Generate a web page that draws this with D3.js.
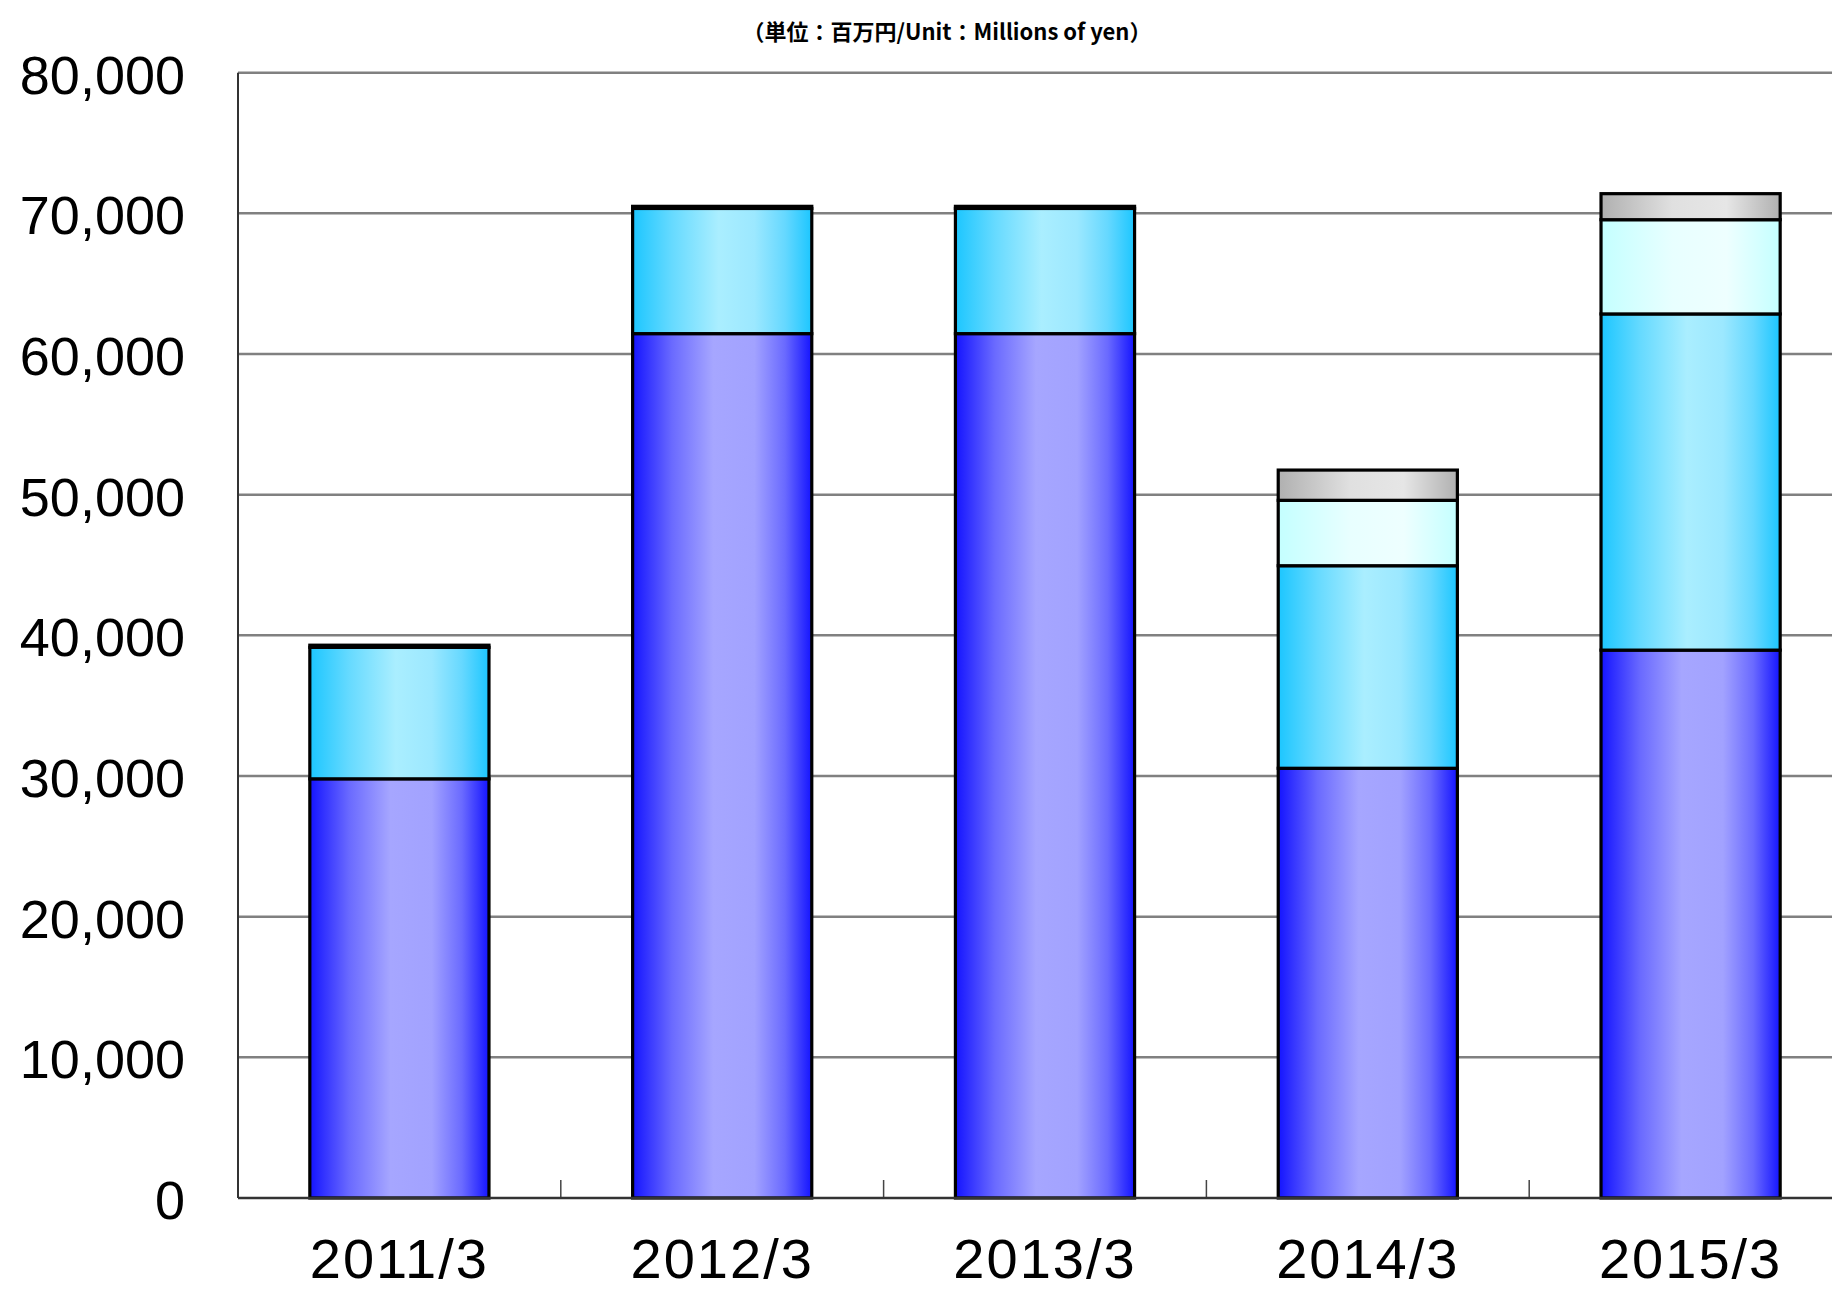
<!DOCTYPE html>
<html>
<head>
<meta charset="utf-8">
<script src="https://cdn.jsdelivr.net/npm/d3@7"></script>
<style>
    html, body { margin: 0; padding: 0; background: #fff; overflow: hidden; }
</style>
</head>
<body>
<div class="graph-goes-here"></div>
<script>
// values in millions of yen
var categories = ["2011/3", "2012/3", "2013/3", "2014/3", "2015/3"];
var blueValues = [29800, 61450, 61450, 30550, 38950];
var cyanValues = [9350, 8900, 8900, 14400, 23900];
var paleValues = [150, 150, 150, 4650, 6700];
var grayValues = [0, 0, 0, 2150, 1850];
var yTicks = [0, 10000, 20000, 30000, 40000, 50000, 60000, 70000, 80000];

var seriesKeys = ["blue", "cyan", "pale", "gray"];
var gradientStops = {
    blue: [["0%", "#1414ff"], ["22%", "#6a6aff"], ["45%", "#a6a6ff"], ["68%", "#a2a2ff"], ["85%", "#6a6aff"], ["100%", "#1414ff"]],
    cyan: [["0%", "#1cc6ff"], ["22%", "#66daff"], ["48%", "#aaeeff"], ["68%", "#9ce8ff"], ["85%", "#66d8ff"], ["100%", "#1cc6ff"]],
    pale: [["0%", "#c4ffff"], ["40%", "#e8ffff"], ["70%", "#eeffff"], ["100%", "#c4ffff"]],
    gray: [["0%", "#b0b0b0"], ["40%", "#e0e0e0"], ["70%", "#e6e6e6"], ["100%", "#b0b0b0"]]
};

var width = 1832, height = 1290;
var margin = { top: 72.7, left: 238, right: 1852, bottom: 1198 };

var table = categories.map((c, i) => ({
    category: c, blue: blueValues[i], cyan: cyanValues[i], pale: paleValues[i], gray: grayValues[i]
}));

var svg = d3.select(".graph-goes-here")
    .append("svg")
    .attr("width", width)
    .attr("height", height)
    .style("display", "block");

var defs = svg.append("defs");
seriesKeys.forEach(k => {
    var g = defs.append("linearGradient")
        .attr("id", "grad-" + k)
        .attr("x1", "0").attr("x2", "1").attr("y1", "0").attr("y2", "0");
    gradientStops[k].forEach(s => {
        g.append("stop").attr("offset", s[0]).attr("stop-color", s[1]);
    });
});

var xScale = d3.scaleBand().domain(categories).range([margin.left, margin.right]).paddingInner(0.445).paddingOuter(0.2225);
var xBand = d3.scaleBand().domain(categories).range([margin.left, margin.right]);
var yScale = d3.scaleLinear().domain([0, 80000]).range([margin.bottom, margin.top]);

// gridlines
svg.append("g")
    .selectAll("line")
    .data(yTicks.slice(1))
    .join("line")
    .attr("x1", margin.left)
    .attr("x2", margin.right)
    .attr("y1", d => yScale(d))
    .attr("y2", d => yScale(d))
    .attr("stroke", "#808080")
    .attr("stroke-width", 2.5);

// y axis labels
var yAxis = svg.append("g")
    .attr("transform", "translate(" + margin.left + ",0)")
    .call(d3.axisLeft(yScale).tickValues(yTicks).tickFormat(d3.format(",")).tickSize(0).tickPadding(53));
yAxis.select(".domain").remove();
yAxis.selectAll("text")
    .attr("font-family", "'Liberation Sans', Arial, sans-serif")
    .attr("font-size", 54)
    .attr("fill", "#000")
    .attr("dy", "0.38em");

// small tick marks between categories
svg.append("g")
    .selectAll("line")
    .data(categories.slice(1))
    .join("line")
    .attr("x1", d => xBand(d))
    .attr("x2", d => xBand(d))
    .attr("y1", margin.bottom)
    .attr("y2", margin.bottom - 18)
    .attr("stroke", "#444")
    .attr("stroke-width", 1.5);

// stacked bars
var stacked = d3.stack().keys(seriesKeys)(table);
svg.append("g")
    .selectAll("g")
    .data(stacked)
    .join("g")
    .attr("fill", d => "url(#grad-" + d.key + ")")
    .selectAll("rect")
    .data(d => d)
    .join("rect")
    .attr("x", d => xScale(d.data.category))
    .attr("width", xScale.bandwidth())
    .attr("y", d => yScale(d[1]))
    .attr("height", d => yScale(d[0]) - yScale(d[1]))
    .attr("stroke", "#000")
    .attr("stroke-width", d => (d[1] - d[0]) > 0 ? 3.2 : 0);

// axis lines
svg.append("line")
    .attr("x1", margin.left).attr("x2", margin.left)
    .attr("y1", margin.top).attr("y2", margin.bottom)
    .attr("stroke", "#333").attr("stroke-width", 2);
svg.append("line")
    .attr("x1", margin.left).attr("x2", margin.right)
    .attr("y1", margin.bottom).attr("y2", margin.bottom)
    .attr("stroke", "#333").attr("stroke-width", 2.5);

// x labels
svg.append("g")
    .selectAll("text")
    .data(categories)
    .join("text")
    .attr("x", d => xBand(d) + xBand.bandwidth() / 2)
    .attr("y", 1278)
    .attr("text-anchor", "middle")
    .attr("font-family", "'Liberation Sans', Arial, sans-serif")
    .attr("font-size", 56)
    .attr("letter-spacing", 2)
    .text(d => d);

// unit note
svg.append("text")
    .attr("x", 947)
    .attr("y", 40)
    .attr("text-anchor", "middle")
    .attr("font-family", "'Noto Sans CJK JP', sans-serif")
    .attr("font-weight", "bold")
    .attr("font-size", 22)
    .text("（単位：百万円/Unit：Millions of yen）");
</script>
</body>
</html>
